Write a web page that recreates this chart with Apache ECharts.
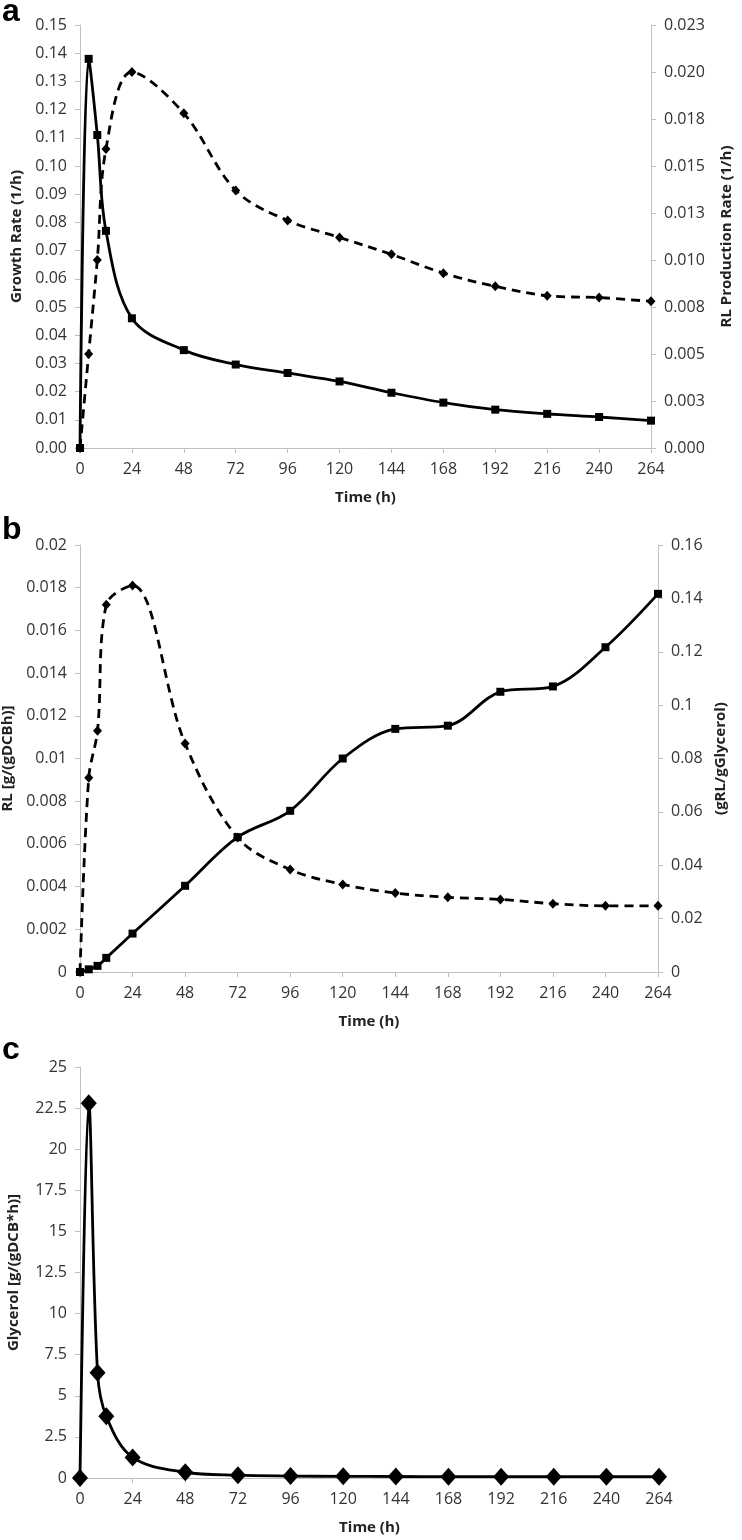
<!DOCTYPE html>
<html>
<head>
<meta charset="utf-8">
<script src="https://cdn.jsdelivr.net/npm/echarts@6/dist/echarts.min.js"></script>
<style>
  html, body { margin: 0; padding: 0; background: #fff; }
  #chart { width: 742px; height: 1540px; }
</style>
</head>
<body>
<div id="chart"></div>
<script>
// sampling times (h), shared by all three panels
var hours = [0, 4, 8, 12, 24, 48, 72, 96, 120, 144, 168, 192, 216, 240, 264];

// panel a
var growthRate = [0, 0.138, 0.111, 0.077, 0.046, 0.0347, 0.0296, 0.0266, 0.0236, 0.0196, 0.0161, 0.0136, 0.0121, 0.011, 0.0097];
var rlRateA = [0, 0.0050, 0.0100, 0.0159, 0.0200, 0.0178, 0.0137, 0.0121, 0.0112, 0.0103, 0.0093, 0.0086, 0.0081, 0.0080, 0.0078];
var rightTicksA = ['0.000', '0.003', '0.005', '0.008', '0.010', '0.013', '0.015', '0.018', '0.020', '0.023'];

// panel b
var rlSpecific = [0, 0.0091, 0.0113, 0.0172, 0.0181, 0.0107, 0.0063, 0.0048, 0.0041, 0.0037, 0.0035, 0.0034, 0.0032, 0.0031, 0.0031];
var rlYield = [0, 0.001, 0.0023, 0.0053, 0.0144, 0.0323, 0.0505, 0.0604, 0.080, 0.0911, 0.0923, 0.1050, 0.1070, 0.1217, 0.1417];

// panel c
var glycerolRate = [0, 22.8, 6.4, 3.75, 1.25, 0.35, 0.17, 0.12, 0.1, 0.09, 0.08, 0.08, 0.08, 0.08, 0.08];

function pairs(vals) {
  return hours.map(function (h, i) { return [h, vals[i]]; });
}

var axisGrey = '#bfbfbf';
var labelColor = '#333';
var nameStyle = { fontFamily: 'Open Sans', fontWeight: 'bold', fontSize: 15, color: '#222' };

function timeAxis(gi) {
  return {
    gridIndex: gi, type: 'value', min: 0, max: 264, interval: 24,
    name: 'Time (h)', nameLocation: 'middle', nameGap: 42, nameTextStyle: nameStyle,
    axisLine: { lineStyle: { color: axisGrey, width: 1 } },
    axisTick: { length: 5, lineStyle: { color: axisGrey } },
    axisLabel: { color: labelColor, fontSize: 16, fontFamily: 'Open Sans', margin: 13 },
    splitLine: { show: false }
  };
}

function valAxis(gi, pos, min, max, step, name, gap, fmt) {
  return {
    gridIndex: gi, type: 'value', position: pos, min: min, max: max, interval: step,
    name: name, nameLocation: 'middle', nameRotate: 90, nameGap: gap, nameTextStyle: nameStyle,
    axisLine: { show: true, lineStyle: { color: axisGrey, width: 1 } },
    axisTick: { show: true, length: 5, lineStyle: { color: axisGrey } },
    axisLabel: { color: labelColor, fontSize: 16, fontFamily: 'Open Sans', margin: 13, formatter: fmt },
    splitLine: { show: false }
  };
}

function solid(xi, yi, vals, sym, size) {
  return {
    type: 'line', xAxisIndex: xi, yAxisIndex: yi, data: pairs(vals), smooth: 0.35,
    symbol: sym, symbolSize: size, itemStyle: { color: '#000' },
    lineStyle: { color: '#000', width: 2.8 }, z: 3
  };
}

function dashed(xi, yi, vals) {
  return {
    type: 'line', xAxisIndex: xi, yAxisIndex: yi, data: pairs(vals), smooth: 0.35,
    symbol: 'diamond', symbolSize: [9, 10], itemStyle: { color: '#000' },
    lineStyle: { color: '#000', width: 2.8, type: [9, 6] }, z: 2
  };
}

var chart = echarts.init(document.getElementById('chart'));
chart.setOption({
  animation: false,
  backgroundColor: '#fff',
  grid: [
    { left: 80, right: 91, top: 25, height: 423, outerBoundsMode: 'none' },
    { left: 80, right: 84, top: 545, height: 427, outerBoundsMode: 'none' },
    { left: 80, right: 83, top: 1067, height: 411, outerBoundsMode: 'none' }
  ],
  xAxis: [timeAxis(0), timeAxis(1), timeAxis(2)],
  yAxis: [
    valAxis(0, 'left', 0, 0.15, 0.01, 'Growth Rate (1/h)', 56, function (v) { return v.toFixed(2); }),
    valAxis(0, 'right', 0, 0.0225, 0.0025, 'RL Production Rate (1/h)', 68, function (v) { return rightTicksA[Math.round(v / 0.0025)]; }),
    valAxis(1, 'left', 0, 0.02, 0.002, 'RL [g/(gDCBh)]', 58),
    valAxis(1, 'right', 0, 0.16, 0.02, '(gRL/gGlycerol)', 50),
    valAxis(2, 'left', 0, 25, 2.5, 'Glycerol [g/(gDCB*h)]', 59)
  ],
  series: [
    dashed(0, 1, rlRateA),
    solid(0, 0, growthRate, 'rect', 8),
    dashed(1, 2, rlSpecific),
    solid(1, 3, rlYield, 'rect', 8),
    solid(2, 4, glycerolRate, 'diamond', [16, 18])
  ],
  graphic: [
    { type: 'text', left: 2, top: -4, style: { text: 'a', font: 'bold 32px "Liberation Sans"', fill: '#000' } },
    { type: 'text', left: 2, top: 514, style: { text: 'b', font: 'bold 32px "Liberation Sans"', fill: '#000' } },
    { type: 'text', left: 2, top: 1034, style: { text: 'c', font: 'bold 32px "Liberation Sans"', fill: '#000' } }
  ]
});
</script>
</body>
</html>
